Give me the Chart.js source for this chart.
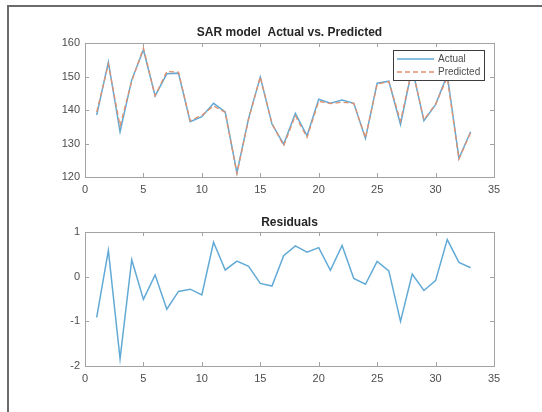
<!DOCTYPE html>
<html>
<head>
<meta charset="utf-8">
<title>SAR model Actual vs. Predicted</title>
<script src="https://cdn.jsdelivr.net/npm/chart.js@4.4.1/dist/chart.umd.min.js"></script>
<style>
  html, body { margin: 0; padding: 0; background: #fff; }
  #figure { position: relative; width: 542px; height: 412px; overflow: hidden; background: #fff; }
  #frame {
    position: absolute; left: 7px; top: 5px; right: -10px; bottom: -10px;
    border-top: 2px solid #6b6b6b; border-left: 2px solid #6b6b6b;
  }
  canvas { position: absolute; left: 0; }
  #fit { top: 0; }
  #residuals { top: 200px; }
</style>
</head>
<body>
<div id="figure">
  <div id="frame"></div>
  <canvas id="fit" width="542" height="200"></canvas>
  <canvas id="residuals" width="542" height="212"></canvas>
</div>
<script>
'use strict';

var steps = [1, 2, 3, 4, 5, 6, 7, 8, 9, 10, 11, 12, 13, 14, 15, 16, 17,
  18, 19, 20, 21, 22, 23, 24, 25, 26, 27, 28, 29, 30, 31, 32, 33];

var actual = [138.5, 154.3, 133.5, 149.0, 158.0, 144.2, 150.8, 151.0, 136.5,
  138.0, 142.0, 139.4, 121.3, 137.5, 149.8, 135.8, 129.8, 139.0, 132.3, 143.2,
  142.0, 143.0, 142.0, 131.5, 148.0, 148.6, 135.7, 152.5, 136.8, 141.6, 150.5,
  125.6, 133.5];

var predicted = [139.4, 153.7, 135.3, 148.6, 158.5, 144.2, 151.5, 151.3, 136.8,
  138.4, 141.2, 139.3, 121.0, 137.3, 149.9, 136.0, 129.3, 138.3, 131.8, 142.6,
  141.9, 142.3, 142.0, 131.7, 147.7, 148.5, 136.7, 152.4, 137.1, 141.7, 149.7,
  125.3, 133.3];

var residuals = [-0.91, 0.59, -1.84, 0.38, -0.51, 0.04, -0.73, -0.33, -0.28,
  -0.41, 0.77, 0.15, 0.35, 0.23, -0.15, -0.21, 0.47, 0.69, 0.55, 0.65, 0.14,
  0.70, -0.04, -0.17, 0.34, 0.13, -1.00, 0.06, -0.31, -0.09, 0.83, 0.32, 0.20];

var xTicks = [0, 5, 10, 15, 20, 25, 30, 35];
var fitTicks = [120, 130, 140, 150, 160];
var residualTicks = [-2, -1, 0, 1];

var FONT = "'Liberation Sans', Arial, sans-serif"
  , BLUE = '#62aad6'
  , ORANGE = '#e3916c'
  , BOX = '#a3a3a3'
  , TEXT = '#4d4d4d';

/**
 * Pair every step with its value.
 *
 * @param {Array} values
 * @returns {Array} points for a linear x axis
 */
function points(values) {
  return steps.map(function (x, i) {
    return { x: x, y: values[i] };
  });
}

/**
 * Fixed tick list for a scale.
 */
function fixedTicks(list) {
  return function (scale) {
    scale.ticks = list.map(function (v) { return { value: v }; });
  };
}

function tickFont() {
  return { family: FONT, size: 11 };
}

/**
 * MATLAB-like scales: no grid, labels only, fixed axis sizes so both
 * plot areas line up.
 */
function scales(yTicks, xHeight) {
  return {
    x: {
      type: 'linear',
      min: xTicks[0],
      max: xTicks[xTicks.length - 1],
      afterBuildTicks: fixedTicks(xTicks),
      afterFit: function (scale) { scale.height = xHeight; },
      grid: { display: false, drawTicks: false },
      border: { display: false },
      ticks: { padding: 6, color: TEXT, font: tickFont(), maxRotation: 0, autoSkip: false }
    },
    y: {
      type: 'linear',
      min: yTicks[0],
      max: yTicks[yTicks.length - 1],
      afterBuildTicks: fixedTicks(yTicks),
      afterFit: function (scale) { scale.width = 85; },
      grid: { display: false, drawTicks: false },
      border: { display: false },
      ticks: { padding: 5, color: TEXT, font: tickFont(), autoSkip: false }
    }
  };
}

//
// Box round the plot area with inward tick marks on all four sides.
//
var axesBox = {
  id: 'axesBox',
  afterDatasetsDraw: function (chart) {
    var ctx = chart.ctx
      , a = chart.chartArea
      , x = chart.scales.x
      , y = chart.scales.y
      , len = 4;

    ctx.save();
    ctx.strokeStyle = BOX;
    ctx.lineWidth = 1;
    ctx.strokeRect(Math.round(a.left) + 0.5, Math.round(a.top) + 0.5,
      Math.round(a.right - a.left), Math.round(a.bottom - a.top));

    ctx.beginPath();
    x.ticks.forEach(function (t) {
      var px = Math.round(x.getPixelForValue(t.value)) + 0.5;
      ctx.moveTo(px, a.bottom); ctx.lineTo(px, a.bottom - len);
      ctx.moveTo(px, a.top); ctx.lineTo(px, a.top + len);
    });
    y.ticks.forEach(function (t) {
      var py = Math.round(y.getPixelForValue(t.value)) + 0.5;
      ctx.moveTo(a.left, py); ctx.lineTo(a.left + len, py);
      ctx.moveTo(a.right, py); ctx.lineTo(a.right - len, py);
    });
    ctx.stroke();
    ctx.restore();
  }
};

//
// Legend inside the upper right corner of the plot area.
//
var legendBox = {
  id: 'legendBox',
  afterDatasetsDraw: function (chart) {
    var ctx = chart.ctx
      , a = chart.chartArea
      , w = 91
      , h = 30
      , left = Math.round(a.right - 10 - w)
      , top = Math.round(a.top + 7);

    ctx.save();
    ctx.fillStyle = '#fff';
    ctx.fillRect(left, top, w, h);
    ctx.strokeStyle = '#3c3c3c';
    ctx.lineWidth = 1;
    ctx.strokeRect(left + 0.5, top + 0.5, w, h);

    chart.data.datasets.forEach(function (ds, i) {
      var ly = top + 9 + i * 13;

      ctx.beginPath();
      ctx.setLineDash(ds.borderDash || []);
      ctx.strokeStyle = ds.borderColor;
      ctx.lineWidth = ds.borderWidth;
      ctx.moveTo(left + 4, ly);
      ctx.lineTo(left + 41, ly);
      ctx.stroke();
      ctx.setLineDash([]);

      ctx.fillStyle = TEXT;
      ctx.font = '10px ' + FONT;
      ctx.textBaseline = 'middle';
      ctx.fillText(ds.label, left + 45, ly);
    });
    ctx.restore();
  }
};

/**
 * Draw one subplot.
 *
 * @param {String} id canvas id
 * @param {Object} setup title, datasets, ticks and spacing
 * @returns {Chart}
 */
function subplot(id, setup) {
  return new Chart(document.getElementById(id), {
    type: 'line',
    data: { datasets: setup.datasets },
    options: {
      responsive: false,
      animation: false,
      events: [],
      layout: { padding: { left: 0, right: 48, top: 0, bottom: 0 } },
      elements: { point: { radius: 0 }, line: { tension: 0 } },
      scales: scales(setup.yTicks, setup.xHeight),
      plugins: {
        legend: { display: false },
        tooltip: { enabled: false },
        title: {
          display: true,
          text: setup.title,
          fullSize: false,
          color: '#262626',
          font: { family: FONT, size: 12, weight: 'bold' },
          padding: setup.titlePadding
        }
      }
    },
    plugins: setup.plugins
  });
}

//
// Predicted gets the lower order so its dashes are drawn over the actual line.
//
subplot('fit', {
  title: 'SAR model  Actual vs. Predicted',
  titlePadding: { top: 25.8, bottom: 2.8 },
  yTicks: fitTicks,
  xHeight: 23,
  plugins: [axesBox, legendBox],
  datasets: [{
    label: 'Actual',
    data: points(actual),
    borderColor: BLUE,
    borderWidth: 1.5,
    order: 2
  }, {
    label: 'Predicted',
    data: points(predicted),
    borderColor: ORANGE,
    borderWidth: 1.3,
    borderDash: [5, 3],
    order: 1
  }]
});

subplot('residuals', {
  title: 'Residuals',
  titlePadding: { top: 15.5, bottom: 2.1 },
  yTicks: residualTicks,
  xHeight: 46,
  plugins: [axesBox],
  datasets: [{
    label: 'Residuals',
    data: points(residuals),
    borderColor: BLUE,
    borderWidth: 1.5
  }]
});
</script>
</body>
</html>
